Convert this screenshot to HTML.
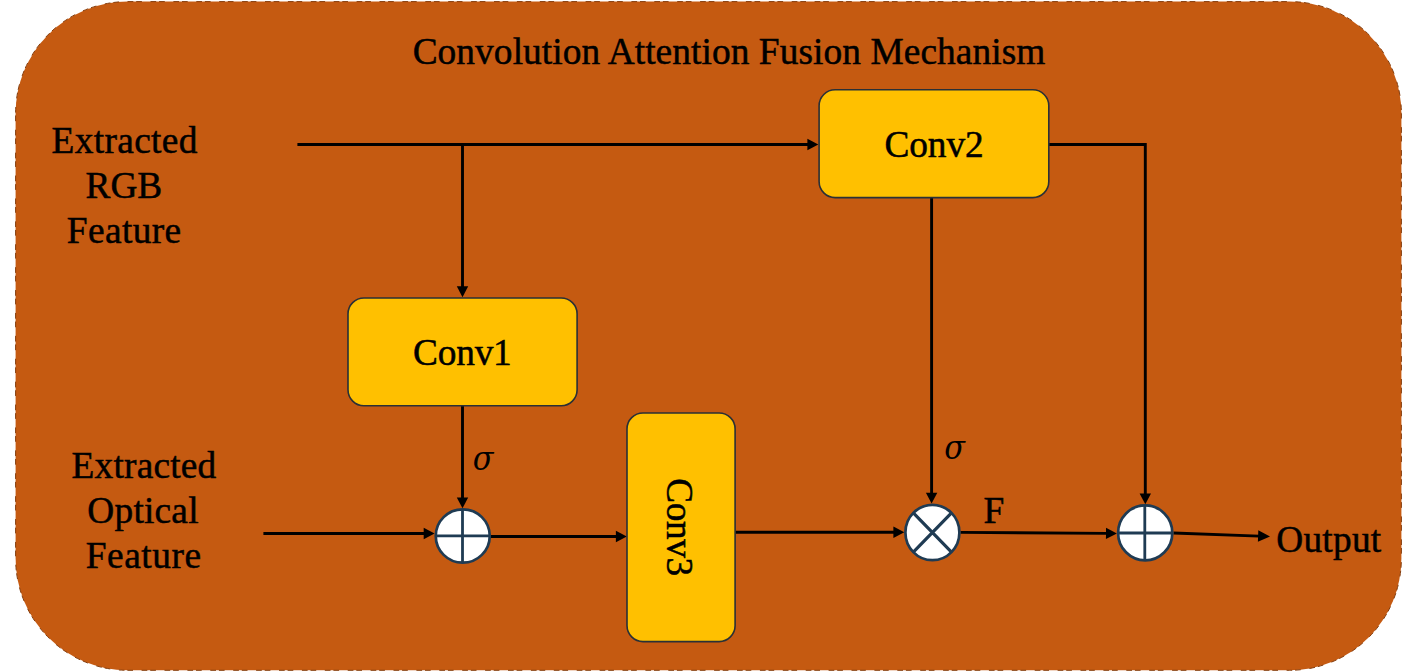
<!DOCTYPE html>
<html lang="en">
<head>
<meta charset="utf-8">
<title>Convolution Attention Fusion Mechanism</title>
<style>
  html, body { margin: 0; padding: 0; background: #ffffff; }
  body { width: 1406px; height: 672px; overflow: hidden; }
  svg { display: block; }
  text { font-family: "Liberation Serif", serif; font-size: 37.33px; fill: #000; stroke: #000; stroke-width: 0.5px; }
  .sig { font-family: "DejaVu Serif", "Liberation Serif", serif; font-style: italic; font-size: 32.85px; stroke: none; }
  .ln { stroke: #000; stroke-width: 2.9; fill: none; }
  .ah { fill: #000; stroke: none; }
  .box { fill: #FFC000; stroke: #2A3036; stroke-width: 1.6; }
  .circ { fill: #ffffff; stroke: #1F3B53; stroke-width: 2.7; }
  .cx { stroke: #1F3B53; stroke-width: 2.8; fill: none; }
  .xx { stroke: #1F3B53; stroke-width: 3.2; fill: none; }
</style>
</head>
<body>
<svg width="1406" height="672" viewBox="0 0 1406 672">
  <!-- panel -->
  <rect x="15.6" y="1.6" width="1385.8" height="668.7" rx="112" ry="112" fill="#C55A11" stroke="#843C0C" stroke-width="1" stroke-dasharray="5.7 2.9 5.7 8.6"/>

  <!-- title -->
  <text x="412.63" y="64.30" letter-spacing="0.090">Convolution Attention Fusion Mechanism</text>

  <!-- left labels -->
  <text x="51.62" y="152.90" letter-spacing="0.346">Extracted</text>
  <text x="85.61" y="197.90" letter-spacing="-0.094">RGB</text>
  <text x="66.87" y="243.20" letter-spacing="0.399">Feature</text>

  <text x="71.62" y="477.70" letter-spacing="0.197">Extracted</text>
  <text x="87.33" y="522.70" letter-spacing="0.221">Optical</text>
  <text x="85.73" y="567.90" letter-spacing="0.563">Feature</text>

  <!-- connectors -->
  <path class="ln" d="M297.40 144.50 L808.40 144.50"/>
  <path class="ah" d="M818.30 144.50 L807.40 150.20 L807.40 138.80 Z"/>
  <path class="ln" d="M462.50 144.50 L462.50 287.30"/>
  <path class="ah" d="M462.50 297.20 L456.80 286.30 L468.20 286.30 Z"/>
  <path class="ln" d="M1049.00 144.50 L1145.30 144.50 L1145.30 494.40"/>
  <path class="ah" d="M1145.30 504.30 L1139.60 493.40 L1151.00 493.40 Z"/>
  <path class="ln" d="M931.60 198.00 L931.60 493.70"/>
  <path class="ah" d="M931.60 503.60 L925.90 492.70 L937.30 492.70 Z"/>
  <path class="ln" d="M462.50 405.70 L462.50 498.40"/>
  <path class="ah" d="M462.50 508.30 L456.80 497.40 L468.20 497.40 Z"/>
  <path class="ln" d="M263.40 533.50 L424.70 533.50"/>
  <path class="ah" d="M434.60 533.50 L423.70 539.20 L423.70 527.80 Z"/>
  <path class="ln" d="M490.50 536.50 L616.90 536.50"/>
  <path class="ah" d="M626.80 536.50 L615.90 542.20 L615.90 530.80 Z"/>
  <path class="ln" d="M735.30 532.20 L894.40 532.20"/>
  <path class="ah" d="M904.30 532.20 L893.40 537.90 L893.40 526.50 Z"/>
  <path class="ln" d="M960.50 532.40 L1107.00 533.34"/>
  <path class="ah" d="M1116.90 533.40 L1105.96 539.03 L1106.04 527.63 Z"/>
  <path class="ln" d="M1173.50 533.00 L1259.11 536.10"/>
  <path class="ah" d="M1270.00 536.50 L1257.90 541.76 L1258.31 530.37 Z"/>

  <!-- boxes -->
  <rect class="box" x="819.1" y="89.8" width="229.7" height="107.8" rx="16" ry="16"/>
  <text x="884.52" y="157.30" letter-spacing="-0.102">Conv2</text>

  <rect class="box" x="348" y="297.95" width="229.1" height="107.85" rx="16" ry="16"/>
  <text x="413.00" y="364.60" letter-spacing="-0.200">Conv1</text>

  <rect class="box" x="627" y="413" width="108.1" height="228.6" rx="16" ry="16"/>
  <g transform="translate(666.80 478.30) rotate(90)"><text x="0" y="0" letter-spacing="-0.450">Conv3</text></g>

  <!-- operators -->
  <ellipse class="circ" cx="462.75" cy="536" rx="27" ry="26.7"/>
  <path class="cx" d="M462.5 509 V563 M435.5 535.9 H490"/>

  <ellipse class="circ" cx="932.4" cy="532.5" rx="27" ry="27.7"/>
  <path class="xx" d="M913.3 512.9 L951.5 552.1 M951.5 512.9 L913.3 552.1"/>

  <ellipse class="circ" cx="1145.2" cy="532.9" rx="27.1" ry="27.45"/>
  <path class="cx" d="M1144.8 506 V560 M1118 533 H1172.5"/>

  <!-- symbols -->
  <g transform="translate(472.80 470.20) scale(0.923 1)"><text class="sig" x="0" y="0">σ</text></g>
  <g transform="translate(944.20 458.90) scale(0.923 1)"><text class="sig" x="0" y="0">σ</text></g>
  <text x="983.38" y="523.30" letter-spacing="0.000">F</text>
  <text x="1276.24" y="552.30" letter-spacing="0.251">Output</text>
</svg>
</body>
</html>
